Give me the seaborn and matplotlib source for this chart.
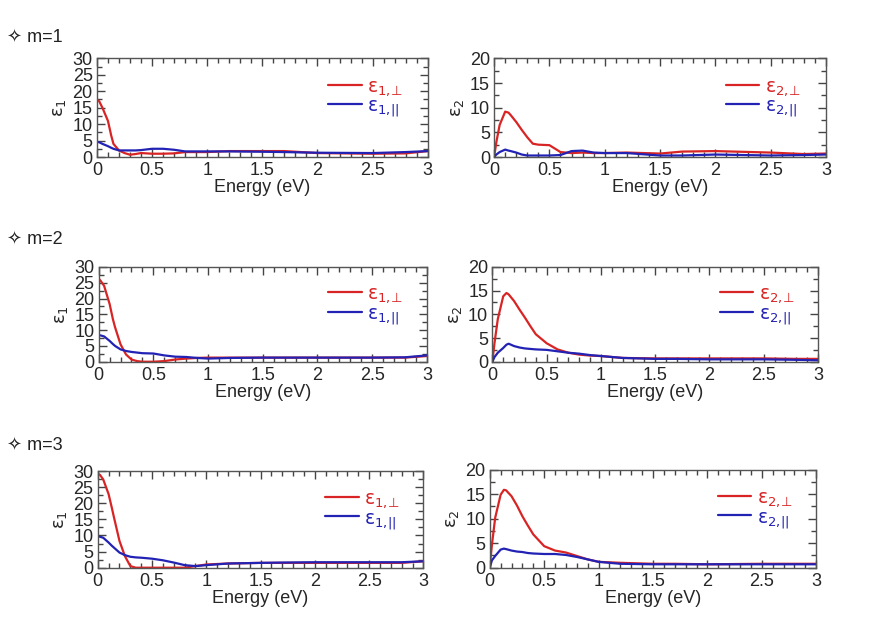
import numpy as np
import pandas as pd
import matplotlib
matplotlib.use("Agg")
import matplotlib.pyplot as plt
import seaborn as sns
from matplotlib.ticker import MultipleLocator, FuncFormatter

# energy grid shared by all curves (eV)
energy = [0, 0.02, 0.05, 0.1, 0.13, 0.15, 0.2, 0.25, 0.3, 0.35, 0.4, 0.5,
          0.6, 0.7, 0.8, 0.9, 1.0, 1.2, 1.5, 1.7, 2.0, 2.5, 2.8, 3.0]

# m=1
m1_e1_perp = [17.4, 17, 15, 11, 6.5, 4, 2, 1.2, 0.7, 0.9, 1.2, 1.0,
              1.0, 1.1, 1.5, 1.5, 1.5, 1.8, 1.8, 1.8, 1.2, 1.0, 1.1, 1.8]
m1_e1_par = [4.6, 4.5, 4.0, 3.3, 2.8, 2.5, 2.0, 2.0, 2.0, 2.0, 2.1, 2.5,
             2.5, 2.2, 1.7, 1.7, 1.7, 1.7, 1.6, 1.5, 1.3, 1.2, 1.5, 1.8]
m1_e2_perp = [0, 3, 6.5, 9.2, 9.0, 8.5, 7.1, 5.5, 4.0, 2.7, 2.5, 2.4,
              1.0, 0.8, 0.9, 0.8, 0.8, 0.9, 0.7, 1.1, 1.2, 0.9, 0.6, 0.7]
m1_e2_par = [0, 0.5, 1.0, 1.5, 1.3, 1.2, 0.9, 0.5, 0.3, 0.3, 0.3, 0.3,
             0.4, 1.2, 1.3, 0.9, 0.8, 0.8, 0.3, 0.3, 0.5, 0.3, 0.4, 0.5]

# m=2
m2_e1_perp = [26.3, 25.5, 24, 18.3, 13.5, 10.9, 5.5, 2.3, 0.7, 0.2, 0, 0,
              0.2, 0.7, 1.0, 1.2, 1.3, 1.3, 1.3, 1.3, 1.3, 1.3, 1.3, 1.8]
m2_e1_par = [8.4, 8.3, 8.0, 6.6, 5.6, 5.0, 3.9, 3.4, 3.1, 2.9, 2.7, 2.6,
             2.0, 1.6, 1.5, 1.2, 1.0, 1.2, 1.3, 1.3, 1.3, 1.3, 1.4, 2.0]
m2_e2_perp = [0, 4.0, 9.0, 13.8, 14.5, 14.2, 12.8, 11.0, 9.3, 7.5, 5.8, 3.9,
              2.6, 1.9, 1.5, 1.3, 1.2, 0.8, 0.7, 0.7, 0.7, 0.7, 0.6, 0.6]
m2_e2_par = [0, 1.0, 1.9, 2.9, 3.6, 3.8, 3.3, 3.0, 2.8, 2.7, 2.6, 2.5,
             2.2, 1.9, 1.7, 1.4, 1.2, 0.8, 0.6, 0.6, 0.5, 0.5, 0.4, 0.3]

# m=3
m3_e1_perp = [29.2, 28.8, 27.4, 22.8, 18.5, 15.5, 8.3, 3.6, 0.5, 0, 0, 0,
              0, 0, 0, 0.5, 1.0, 1.3, 1.5, 1.5, 1.5, 1.5, 1.5, 2.0]
m3_e1_par = [9.8, 9.6, 9.3, 7.8, 6.8, 6.2, 4.7, 3.9, 3.4, 3.2, 3.1, 2.8,
             2.3, 1.6, 0.8, 0.5, 0.8, 1.3, 1.5, 1.6, 1.7, 1.7, 1.7, 2.0]
m3_e2_perp = [0, 4.7, 10.2, 14.9, 15.9, 15.8, 14.6, 12.7, 10.5, 8.6, 6.8, 4.4,
              3.5, 3.1, 2.4, 1.7, 1.2, 1.0, 0.8, 0.8, 0.7, 0.8, 0.8, 0.8]
m3_e2_par = [0, 1.5, 2.4, 3.7, 3.9, 3.8, 3.5, 3.3, 3.2, 3.0, 2.9, 2.8,
             2.8, 2.6, 2.2, 1.7, 1.2, 0.8, 0.7, 0.7, 0.7, 0.7, 0.7, 0.7]

row_labels = ["m=1", "m=2", "m=3"]
panels = [
    [(m1_e1_perp, m1_e1_par), (m1_e2_perp, m1_e2_par)],
    [(m2_e1_perp, m2_e1_par), (m2_e2_perp, m2_e2_par)],
    [(m3_e1_perp, m3_e1_par), (m3_e2_perp, m3_e2_par)],
]

sns.set_style("ticks")
plt.rcParams["font.family"] = ["Liberation Sans", "DejaVu Sans"]
plt.rcParams["mathtext.fontset"] = "dejavusans"
plt.rcParams["xtick.direction"] = "in"
plt.rcParams["ytick.direction"] = "in"

red = "#d82424"
blue = "#2222b4"

fig = plt.figure(figsize=(8.73, 6.28), dpi=100)

# axes rectangles in figure fractions [left, bottom, width, height]
rects = [
    [(0.111, 0.750, 0.379, 0.157), (0.566, 0.750, 0.380, 0.157)],
    [(0.113, 0.424, 0.376, 0.151), (0.564, 0.424, 0.373, 0.151)],
    [(0.112, 0.096, 0.373, 0.154), (0.561, 0.096, 0.374, 0.156)],
]
label_y = [0.939, 0.617, 0.290]

for r in range(3):
    fig.text(0.008, label_y[r], "\u2727 " + row_labels[r], fontsize=13,
             va="center", ha="left", color="#222222")
    for c in range(2):
        ax = fig.add_axes(rects[r][c])
        k = c + 1
        perp, par = panels[r][c]
        df = pd.DataFrame({
            "Energy": energy * 2,
            "eps": perp + par,
            "comp": [r"$\mathrm{ε}_{%d,\!⊥}$" % k] * len(energy)
                    + [r"$\mathrm{ε}_{%d,\!||}$" % k] * len(energy),
        })
        sns.lineplot(data=df, x="Energy", y="eps", hue="comp",
                     palette=[red, blue], linewidth=1.6, ax=ax)
        ax.set_xlim(0, 3)
        if k == 1:
            ax.set_ylim(0, 30)
        else:
            ax.set_ylim(0, 20)
        ax.xaxis.set_major_locator(MultipleLocator(0.5))
        ax.xaxis.set_minor_locator(MultipleLocator(0.1))
        ax.yaxis.set_major_locator(MultipleLocator(5))
        ax.yaxis.set_minor_locator(MultipleLocator(2.5))
        ax.xaxis.set_major_formatter(FuncFormatter(lambda v, p: "%g" % v))
        ax.tick_params(which="both", top=True, right=True, direction="in",
                       labelsize=13, color="#444444")
        ax.tick_params(axis="x", pad=3.5)
        ax.tick_params(axis="y", pad=3)
        ax.tick_params(which="major", length=6, width=1)
        ax.tick_params(which="minor", length=3.5, width=1)
        for s in ax.spines.values():
            s.set_color("#555555")
            s.set_linewidth(1)
        ax.set_xlabel("Energy (eV)", fontsize=13, labelpad=0)
        ax.set_ylabel(r"$\mathrm{ε}_{%d}$" % k, fontsize=13, labelpad=3)
        leg = ax.legend(loc="upper left", bbox_to_anchor=(0.698, 0.80),
                        frameon=False, fontsize=13.5, handlelength=1.8,
                        labelspacing=0.0, handletextpad=0.3,
                        borderaxespad=0, borderpad=0)
        for txt, col in zip(leg.get_texts(), [red, blue]):
            txt.set_color(col)

fig.savefig("out.png", dpi=100)
